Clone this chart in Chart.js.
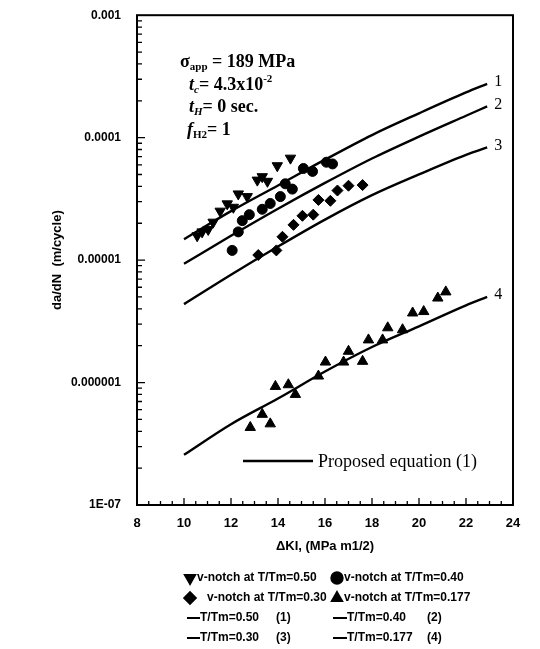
<!DOCTYPE html>
<html>
<head>
<meta charset="utf-8">
<script src="https://cdn.jsdelivr.net/npm/chart.js@4.4.1/dist/chart.umd.min.js"></script>
<style>
  html, body { margin: 0; padding: 0; background: #fff; }
  #wrap { width: 540px; height: 649px; }
</style>
</head>
<body>
<div id="wrap"><canvas id="chart" width="540" height="649"></canvas></div>
<script>
// proposed equation curves, dK in MPa m^1/2, da/dN in m/cycle
const curveX = [10, 12, 14, 16, 18, 20, 22, 22.9];
const curve050 = [1.48e-5, 2.51e-5, 4.07e-5, 6.61e-5, 1.05e-4, 1.58e-4, 2.34e-4, 2.75e-4];
const curve040 = [9.33e-6, 1.58e-5, 2.63e-5, 4.27e-5, 6.76e-5, 1.02e-4, 1.51e-4, 1.8e-4];
const curve030 = [4.37e-6, 7.59e-6, 1.29e-5, 2.14e-5, 3.39e-5, 5.01e-5, 7.24e-5, 8.32e-5];
const curve0177 = [2.57e-7, 4.57e-7, 7.41e-7, 1.23e-6, 1.95e-6, 2.88e-6, 4.27e-6, 5.01e-6];

// measured points, v-notch specimens
const pts050X = [10.56, 10.77, 11.03, 11.24, 11.54, 11.84, 12.10, 12.31, 12.69, 13.12, 13.33, 13.55, 13.97, 14.53];
const pts050Y = [1.58e-5, 1.70e-5, 1.78e-5, 2.04e-5, 2.51e-5, 2.88e-5, 2.7e-5, 3.47e-5, 3.3e-5, 4.5e-5, 4.8e-5, 4.4e-5, 5.9e-5, 6.8e-5];
const pts040X = [12.05, 12.31, 12.48, 12.78, 13.33, 13.67, 14.10, 14.31, 14.61, 15.08, 15.47, 16.06, 16.32];
const pts040Y = [1.2e-5, 1.7e-5, 2.1e-5, 2.35e-5, 2.6e-5, 2.9e-5, 3.3e-5, 4.2e-5, 3.8e-5, 5.6e-5, 5.3e-5, 6.3e-5, 6.1e-5];
const pts030X = [13.16, 13.93, 14.19, 14.66, 15.04, 15.50, 15.72, 16.23, 16.53, 17.00, 17.60];
const pts030Y = [1.1e-5, 1.2e-5, 1.55e-5, 1.94e-5, 2.3e-5, 2.35e-5, 3.1e-5, 3.05e-5, 3.7e-5, 4.05e-5, 4.1e-5];
const pts0177X = [12.82, 13.33, 13.67, 13.89, 14.44, 14.74, 15.72, 16.02, 16.79, 17.00, 17.60, 17.85, 18.45, 18.67, 19.30, 19.73, 20.20, 20.80, 21.14];
const pts0177Y = [4.3e-7, 5.5e-7, 4.6e-7, 9.3e-7, 9.6e-7, 8e-7, 1.13e-6, 1.47e-6, 1.47e-6, 1.8e-6, 1.49e-6, 2.23e-6, 2.23e-6, 2.8e-6, 2.7e-6, 3.7e-6, 3.8e-6, 4.9e-6, 5.5e-6];

const yTickValues = [1e-7, 1e-6, 1e-5, 1e-4, 1e-3];
const yTickLabels = ['1E-07', '0.000001', '0.00001', '0.0001', '0.001'];
const curveLabels = ['1', '2', '3', '4'];

const SERIF = "'Liberation Serif', 'Times New Roman', serif";
const SANS = "'Liberation Sans', Arial, sans-serif";

Chart.defaults.font.family = SANS;
Chart.defaults.color = '#000';

function pairs(xs, ys) {
    return xs.map((v, i) => ({ x: v, y: ys[i] }));
}

function curveSet(ys) {
    return {
        data: pairs(curveX, ys),
        showLine: true,
        borderColor: '#000',
        borderWidth: 2.4,
        pointRadius: 0,
        cubicInterpolationMode: 'monotone'
    };
}

function pointSet(xs, ys, style, radius, rotation) {
    return {
        data: pairs(xs, ys),
        showLine: false,
        pointStyle: style,
        pointRadius: radius,
        rotation: rotation || 0,
        backgroundColor: '#000',
        borderColor: '#000',
        borderWidth: 1
    };
}

// draw a line of mixed-font text, each run can be shifted up/down
function drawRuns(ctx, x, y, runs) {
    runs.forEach(r => {
        ctx.font = r.font;
        ctx.fillText(r.t, x, y + (r.dy || 0));
        x += ctx.measureText(r.t).width;
    });
}

const decorPlugin = {
    id: 'decor',
    afterDraw(chart) {
        const { ctx, chartArea: a, scales: { x, y } } = chart;
        const H = Chart.helpers;
        ctx.save();
        ctx.strokeStyle = '#000';
        ctx.fillStyle = '#000';

        // frame
        ctx.lineWidth = 2;
        ctx.strokeRect(a.left, a.top, a.right - a.left, a.bottom - a.top);

        // inward tick marks
        ctx.lineWidth = 1.3;
        ctx.beginPath();
        for (let v = 8; v <= 24; v += 0.5) {
            const px = x.getPixelForValue(v);
            const len = v % 2 === 0 ? 7 : 4;
            ctx.moveTo(px, a.bottom);
            ctx.lineTo(px, a.bottom - len);
        }
        for (let e = -7; e < -3; e++) {
            for (let m = 1; m < 10; m++) {
                const py = y.getPixelForValue(m * Math.pow(10, e));
                const len = m === 1 ? 8 : 5;
                ctx.moveTo(a.left, py);
                ctx.lineTo(a.left + len, py);
            }
        }
        ctx.stroke();

        // test conditions
        ctx.textBaseline = 'alphabetic';
        const big = 'bold 18px ' + SERIF, small = 'bold 11px ' + SERIF;
        const bigI = 'bold italic 18px ' + SERIF, smallI = 'bold italic 11px ' + SERIF;
        drawRuns(ctx, 180, 67, [{ t: 'σ', font: big }, { t: 'app', font: small, dy: 3 }, { t: ' = 189 MPa', font: big }]);
        drawRuns(ctx, 189, 90, [{ t: 't', font: bigI }, { t: 'c', font: smallI, dy: 3 }, { t: '= 4.3x10', font: big }, { t: '-2', font: small, dy: -8 }]);
        drawRuns(ctx, 189, 112, [{ t: 't', font: bigI }, { t: 'H', font: smallI, dy: 3 }, { t: '= 0 sec.', font: big }]);
        drawRuns(ctx, 187, 135, [{ t: 'f', font: bigI }, { t: 'H2', font: small, dy: 3 }, { t: '= 1', font: big }]);

        // curve numbers at the line ends
        ctx.font = '16px ' + SERIF;
        ctx.textBaseline = 'middle';
        [curve050, curve040, curve030, curve0177].forEach((c, i) => {
            const last = curveX.length - 1;
            const px = x.getPixelForValue(curveX[last]);
            const py = y.getPixelForValue(c[last]);
            ctx.fillText(curveLabels[i], px + 7, py - 2);
        });

        // in-plot key
        ctx.lineWidth = 2.4;
        ctx.beginPath();
        ctx.moveTo(243, 461);
        ctx.lineTo(313, 461);
        ctx.stroke();
        ctx.font = '18px ' + SERIF;
        ctx.fillText('Proposed equation (1)', 318, 462);

        // bottom legend
        ctx.font = 'bold 12px ' + SANS;
        const mark = (style, rot, px, py) => {
            H.drawPoint(ctx, { pointStyle: style, radius: 5.5, rotation: rot, borderWidth: 1 }, px, py);
            ctx.fill();
        };
        const dash = (x0, x1, py) => {
            ctx.lineWidth = 2;
            ctx.beginPath();
            ctx.moveTo(x0, py);
            ctx.lineTo(x1, py);
            ctx.stroke();
        };
        mark('triangle', 180, 190, 578);
        ctx.fillText('v-notch at T/Tm=0.50', 197, 578);
        mark('circle', 0, 337, 578);
        ctx.fillText('v-notch at T/Tm=0.40', 344, 578);
        mark('rectRot', 0, 190, 598);
        ctx.fillText('v-notch at T/Tm=0.30', 207, 598);
        mark('triangle', 0, 337, 598);
        ctx.fillText('v-notch at T/Tm=0.177', 344, 598);
        dash(187, 200, 618);
        ctx.fillText('T/Tm=0.50', 200, 618);
        ctx.fillText('(1)', 276, 618);
        dash(333, 347, 618);
        ctx.fillText('T/Tm=0.40', 347, 618);
        ctx.fillText('(2)', 427, 618);
        dash(187, 200, 638);
        ctx.fillText('T/Tm=0.30', 200, 638);
        ctx.fillText('(3)', 276, 638);
        dash(333, 347, 638);
        ctx.fillText('T/Tm=0.177', 347, 638);
        ctx.fillText('(4)', 427, 638);

        ctx.restore();
    }
};

new Chart(document.getElementById('chart'), {
    type: 'scatter',
    data: {
        datasets: [
            curveSet(curve050),
            curveSet(curve040),
            curveSet(curve030),
            curveSet(curve0177),
            pointSet(pts050X, pts050Y, 'triangle', 6, 180),
            pointSet(pts040X, pts040Y, 'circle', 5),
            pointSet(pts030X, pts030Y, 'rectRot', 5.5),
            pointSet(pts0177X, pts0177Y, 'triangle', 6)
        ]
    },
    options: {
        responsive: false,
        animation: false,
        layout: { padding: { top: 13, right: 27, left: 0, bottom: 0 } },
        plugins: {
            legend: { display: false },
            tooltip: { enabled: false }
        },
        scales: {
            x: {
                type: 'linear',
                min: 8,
                max: 24,
                grid: { display: false },
                border: { display: false },
                ticks: { stepSize: 2, autoSkip: false, maxRotation: 0, padding: 3, font: { size: 13, weight: 'bold' } },
                title: {
                    display: true,
                    text: 'ΔKI, (MPa m1/2)',
                    font: { size: 13, weight: 'bold' },
                    padding: { top: 0, bottom: 95 }
                },
                afterFit: s => { s.height = 144; }
            },
            y: {
                type: 'logarithmic',
                min: 1e-7,
                max: 1e-3,
                grid: { display: false },
                border: { display: false },
                afterBuildTicks: s => { s.ticks = yTickValues.map(v => ({ value: v })); },
                ticks: {
                    autoSkip: false,
                    padding: 8,
                    font: { size: 12, weight: 'bold' },
                    callback: v => yTickLabels[yTickValues.indexOf(v)]
                },
                title: {
                    display: true,
                    text: 'da/dN  (m/cycle)',
                    font: { size: 13, weight: 'bold' },
                    padding: { top: 50, bottom: 0 }
                },
                afterFit: s => { s.width = 137; }
            }
        }
    },
    plugins: [decorPlugin]
});
</script>
</body>
</html>
